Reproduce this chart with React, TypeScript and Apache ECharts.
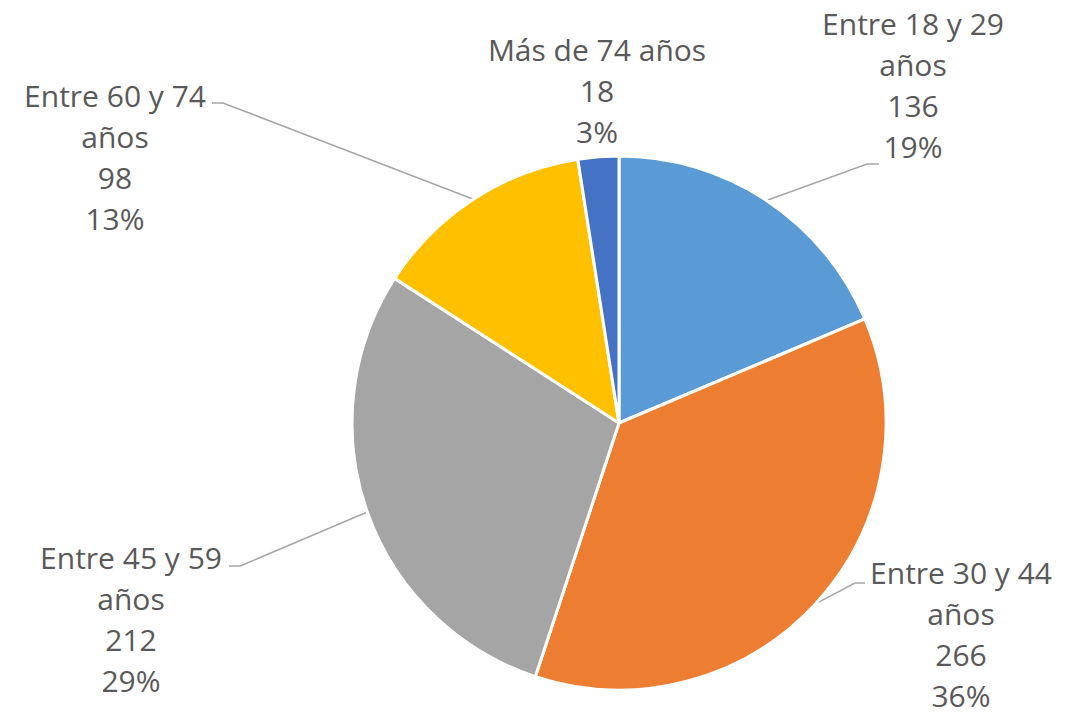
import React, { useEffect, useRef } from 'react';
import * as echarts from 'echarts';

const categories = [
  'Entre 18 y 29 años',
  'Entre 30 y 44 años',
  'Entre 45 y 59 años',
  'Entre 60 y 74 años',
  'Más de 74 años',
];
const values = [136, 266, 212, 98, 18];
const colors = ['#5B9BD5', '#ED7D31', '#A5A5A5', '#FFC000', '#4472C4'];

// label layout (centre of each label block) and leader-line end segments
const labelCenters: number[][] = [
  [913, 85],
  [961, 634],
  [131, 619],
  [115, 157],
  [597, 90],
];
const leaderEnds: (number[][] | null)[] = [
  [[867, 164], [879, 164]],
  [[855, 583], [865, 583]],
  [[240, 566], [229, 566]],
  [[223, 103], [212, 103]],
  null,
];

export default function App() {
  const ref = useRef<HTMLDivElement>(null);
  useEffect(() => {
    if (!ref.current) return;
    const chart = echarts.init(ref.current, undefined, { renderer: 'svg' });
    chart.setOption({
      animation: false,
      backgroundColor: '#ffffff',
      series: [
        {
          type: 'pie',
          center: [619, 423],
          radius: 267,
          startAngle: 90,
          clockwise: true,
          percentPrecision: 0,
          avoidLabelOverlap: false,
          itemStyle: { borderColor: '#ffffff', borderWidth: 3 },
          label: {
            show: true,
            position: 'outside',
            color: '#595959',
            fontSize: 30,
            lineHeight: 41,
            fontFamily: 'Open Sans',
            align: 'center',
            formatter: (p: any) => {
              const name = p.name.length > 15 ? p.name.replace(/ (años)$/, '\n$1') : p.name;
              return `${name}\n${p.value}\n${p.percent}%`;
            },
          },
          labelLine: {
            show: true,
            length: 20,
            length2: 10,
            lineStyle: { color: '#A6A6A6', width: 1.5 },
          },
          labelLayout: (params: any) => {
            const i = params.dataIndex;
            const [x, y] = labelCenters[i];
            const out: any = { x, y, align: 'center', verticalAlign: 'middle' };
            const ends = leaderEnds[i];
            if (ends && params.labelLinePoints) {
              out.labelLinePoints = [params.labelLinePoints[0], ends[0], ends[1]];
            }
            return out;
          },
          data: categories.map((name, i) => ({
            name,
            value: values[i],
            itemStyle: { color: colors[i] },
            labelLine: { show: leaderEnds[i] !== null },
          })),
        },
      ],
    });
    return () => chart.dispose();
  }, []);
  return (
    <div
      ref={ref}
      style={{ position: 'fixed', left: 0, top: 0, width: 1082, height: 717 }}
    />
  );
}
